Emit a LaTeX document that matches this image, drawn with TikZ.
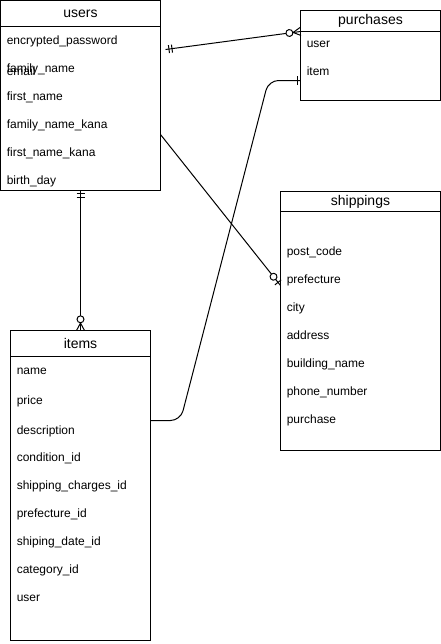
\documentclass[tikz,border=0pt]{standalone}
\usepackage{fontspec}
\setmainfont{Liberation Sans}
\usepackage{tikz}
\usetikzlibrary{
    arrows.meta,
    positioning,
    calc,
    decorations.markings
}
\tikzset{
    tablebody/.style={
        draw,
        line width=0.75pt,
        inner sep=0pt,
        outer sep=0pt,
        anchor=north west
    },
    tablehead/.style={
        tablebody,
        font=\fontsize{10.5}{12}\selectfont
    },
    fieldtext/.style={
        anchor=west,
        inner sep=0pt,
        text height=6.5pt,
        text depth=0pt,
        font=\fontsize{9}{11}\selectfont
    },
    erline/.style={
        line width=0.75pt
    },
    twobars start/.style={
        postaction={decorate, decoration={markings,
            mark=at position 0 with {
                \draw[line width=0.75pt]
                (2.6pt,-3pt) -- (2.6pt,3pt)
                (4.9pt,-3pt) -- (4.9pt,3pt);
            }}}
    },
    zeromany end/.style={
        postaction={decorate, decoration={markings,
            mark=at position 1 with {
                \draw[line width=0.75pt]
                (-5.6pt,0) -- (0,3pt)
                (-5.6pt,0) -- (0,-3pt);
                \draw[line width=0.75pt, fill=white]
                (-8.4pt,0) circle (2.6pt);
            }}}
    },
    zeroone end/.style={
        postaction={decorate, decoration={markings,
            mark=at position 1 with {
                \draw[line width=0.75pt]
                (-3pt,-3pt) -- (-3pt,3pt);
                \draw[line width=0.75pt, fill=white]
                (-8.4pt,0) circle (2.6pt);
            }}}
    },
    onebar end/.style={
        postaction={decorate, decoration={markings,
            mark=at position 1 with {
                \draw[line width=0.75pt]
                (-2.6pt,-3.4pt) -- (-2.6pt,3.4pt);
            }}}
    }
}
\begin{document}
\begin{tikzpicture}[x=0.75pt,y=-0.75pt]
\useasboundingbox (-0.5,-0.5) rectangle (440.5,643.5);
%
% users
    \node[tablebody, minimum width=120pt, minimum height=142.5pt] (users) at (0,0) {};
    \node[tablehead, minimum width=120pt, minimum height=19.5pt] (usershead) at (0,0) {users};
    \foreach \name [count=\i] in {encrypted\_password, family\_name, first\_name, family\_name\_kana, first\_name\_kana, birth\_day}{
        \node[fieldtext] (users-\i) at (6,12+28*\i) {\name};
    }
    \node[fieldtext] (users-email) at (6,70.5) {email};
%
% purchases
    \node[tablebody, minimum width=105pt, minimum height=67.5pt] (purchases) at (300,10) {};
    \node[tablehead, minimum width=105pt, minimum height=15.75pt] (purchaseshead) at (300,10) {purchases};
    \foreach \name [count=\i] in {user, item}{
        \node[fieldtext] (purchases-\i) at (306,15+28*\i) {\name};
    }
%
% shippings
    \node[tablebody, minimum width=120pt, minimum height=194.25pt] (shippings) at (280,191) {};
    \node[tablehead, minimum width=120pt, minimum height=15pt] (shippingshead) at (280,191) {shippings};
    \foreach \name [count=\i] in {post\_code, prefecture, city, address, building\_name, phone\_number, purchase}{
        \node[fieldtext] (shippings-\i) at (286,223+28*\i) {\name};
    }
%
% items
    \node[tablebody, minimum width=105pt, minimum height=232.5pt] (items) at (10,330) {};
    \node[tablehead, minimum width=105pt, minimum height=19.5pt] (itemshead) at (10,330) {items};
    \foreach \y/\name [count=\i] in {370/name, 400/price, 430/description, 457/condition\_id, 485/shipping\_charges\_id, 513/prefecture\_id, 541/shiping\_date\_id, 569/category\_id, 597/user}{
        \node[fieldtext] (items-\i) at (16,\y) {\name};
    }
%
% relations
    \coordinate (up-start) at (165,49);
    \coordinate (us-start) at (160,134);
    \coordinate (us-end) at (280,285);
    \coordinate (ip-start) at (150,420);
    \coordinate (ip-end) at (300,80);
%
    \draw[erline, twobars start, zeromany end] (up-start) -- (purchaseshead.south west);
    \draw[erline, twobars start, zeromany end] (users.south) -- (itemshead.north);
    \draw[erline, zeroone end] (us-start) -- (us-end);
    \draw[erline, rounded corners=7.5pt, onebar end] (ip-start) -- (180,420) -- (268,80) -- (ip-end);
%
\end{tikzpicture}
\end{document}
